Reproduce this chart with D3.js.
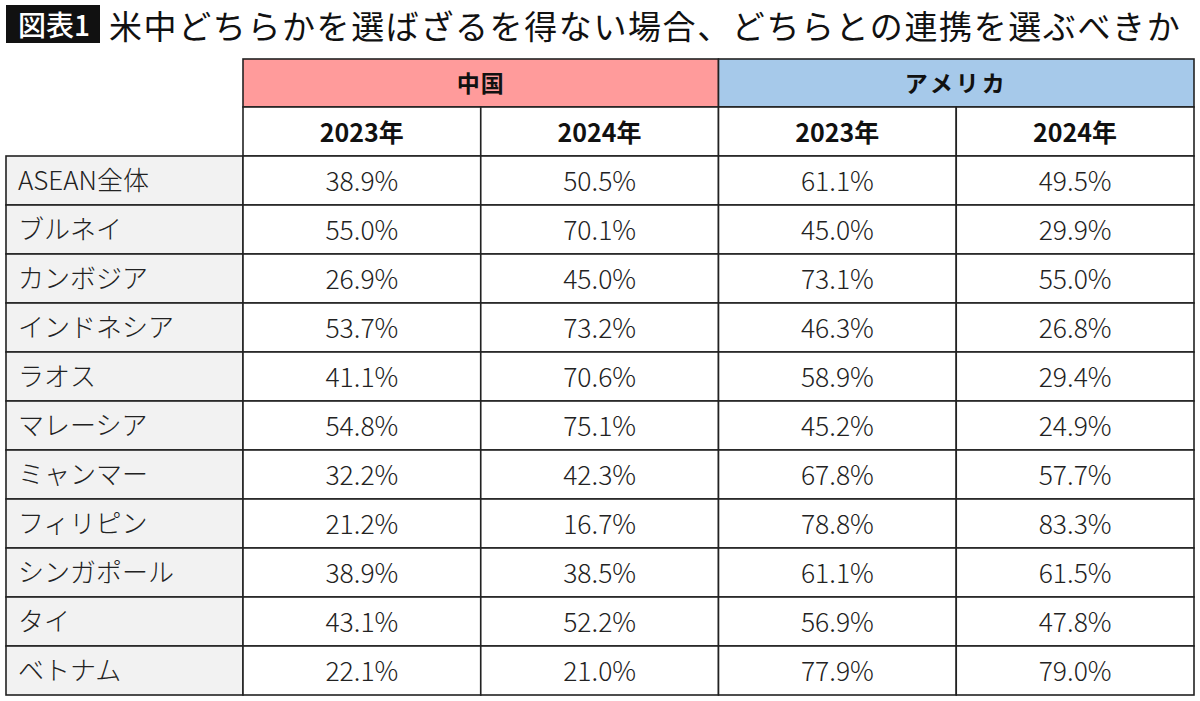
<!DOCTYPE html>
<html><head><meta charset="utf-8">
<script src="https://cdn.jsdelivr.net/npm/d3@7"></script>
<style>
html,body{margin:0;padding:0;background:#fff;}
svg{display:block;font-family:"Noto Sans CJK JP","Noto Sans",sans-serif;}
</style></head>
<body>
<svg id="c" width="1200" height="701"></svg>
<script>
const titleTag = "図表1";
const title = "米中どちらかを選ばざるを得ない場合、どちらとの連携を選ぶべきか";
const groups = ["中国", "アメリカ"];
const years = ["2023年", "2024年"];
const countries = ["ASEAN全体","ブルネイ","カンボジア","インドネシア","ラオス","マレーシア","ミャンマー","フィリピン","シンガポール","タイ","ベトナム"];
const china2023 = [38.9,55.0,26.9,53.7,41.1,54.8,32.2,21.2,38.9,43.1,22.1];
const china2024 = [50.5,70.1,45.0,73.2,70.6,75.1,42.3,16.7,38.5,52.2,21.0];
const usa2023 = [61.1,45.0,73.1,46.3,58.9,45.2,67.8,78.8,61.1,56.9,77.9];
const usa2024 = [49.5,29.9,55.0,26.8,29.4,24.9,57.7,83.3,61.5,47.8,79.0];
const seriesValues = [china2023, china2024, usa2023, usa2024];
const groupColors = ["#FF9B9B", "#A6C9EA"];

const svg = d3.select("#c");
// title
const tag = svg.append("g");
tag.append("rect").attr("x",6).attr("y",5).attr("width",94).attr("height",38).attr("fill","#111");
tag.append("text").attr("x",54).attr("y",36).attr("text-anchor","middle").attr("fill","#fff")
  .attr("font-size",28).attr("font-weight",500).text(titleTag);
svg.append("text").attr("x",109).attr("y",38.5).attr("font-size",33).attr("letter-spacing",1.6)
  .attr("fill","#111").text(title);

// layout scales
const left = 6, labelRight = 243, right = 1194;
const colKeys = d3.range(4);
const x = d3.scaleBand().domain(colKeys).range([labelRight, right]);
const head1Top = 59, head1Bot = 107, head2Bot = 156, bottom = 695;
const y = d3.scaleBand().domain(countries).range([head2Bot, bottom]);

const lineColor = "#222", lw = 1.6;

// header row 1
const gx = d3.scaleBand().domain(groups).range([labelRight, right]);
svg.selectAll(".g1").data(groups).join("rect")
  .attr("x", d=>gx(d)).attr("y", head1Top).attr("width", gx.bandwidth()).attr("height", head1Bot-head1Top)
  .attr("fill", (d,i)=>groupColors[i]).attr("stroke", lineColor).attr("stroke-width", lw);
svg.selectAll(".g1t").data(groups).join("text")
  .attr("x", d=>gx(d)+gx.bandwidth()/2).attr("y", (head1Top+head1Bot)/2+8.5)
  .attr("text-anchor","middle").attr("font-size",23).attr("font-weight",700).attr("fill","#111")
  .attr("letter-spacing", (d,i)=> i===1 ? 3 : 1).text(d=>d);

// header row 2
const yearCols = colKeys.map(i=>({i, label: years[i%2]}));
svg.selectAll(".h2").data(yearCols).join("rect")
  .attr("x", d=>x(d.i)).attr("y", head1Bot).attr("width", x.bandwidth()).attr("height", head2Bot-head1Bot)
  .attr("fill","#fff").attr("stroke", lineColor).attr("stroke-width", lw);
svg.selectAll(".h2t").data(yearCols).join("text")
  .attr("x", d=>x(d.i)+x.bandwidth()/2).attr("y", (head1Bot+head2Bot)/2+10)
  .attr("text-anchor","middle").attr("font-size",25).attr("font-weight",700).attr("fill","#111")
  .text(d=>d.label);

// body
const rows = svg.selectAll(".row").data(countries).join("g");
rows.append("rect").attr("x", left).attr("y", d=>y(d)).attr("width", labelRight-left).attr("height", y.bandwidth())
  .attr("fill","#F2F2F2").attr("stroke", lineColor).attr("stroke-width", lw);
rows.append("text").attr("x", 18).attr("y", d=>y(d)+y.bandwidth()/2+9.5)
  .attr("font-size",26).attr("font-weight",300).attr("fill","#222").text(d=>d);
rows.each(function(country, r){
  const g = d3.select(this);
  colKeys.forEach(ci=>{
    g.append("rect").attr("x", x(ci)).attr("y", y(country)).attr("width", x.bandwidth()).attr("height", y.bandwidth())
      .attr("fill","#fff").attr("stroke", lineColor).attr("stroke-width", lw);
    g.append("text").attr("x", x(ci)+x.bandwidth()/2).attr("y", y(country)+y.bandwidth()/2+10)
      .attr("text-anchor","middle").attr("font-size",26.5).attr("font-weight",300).attr("fill","#222")
      .text(seriesValues[ci][r].toFixed(1)+"%");
  });
});
</script>
</body></html>
